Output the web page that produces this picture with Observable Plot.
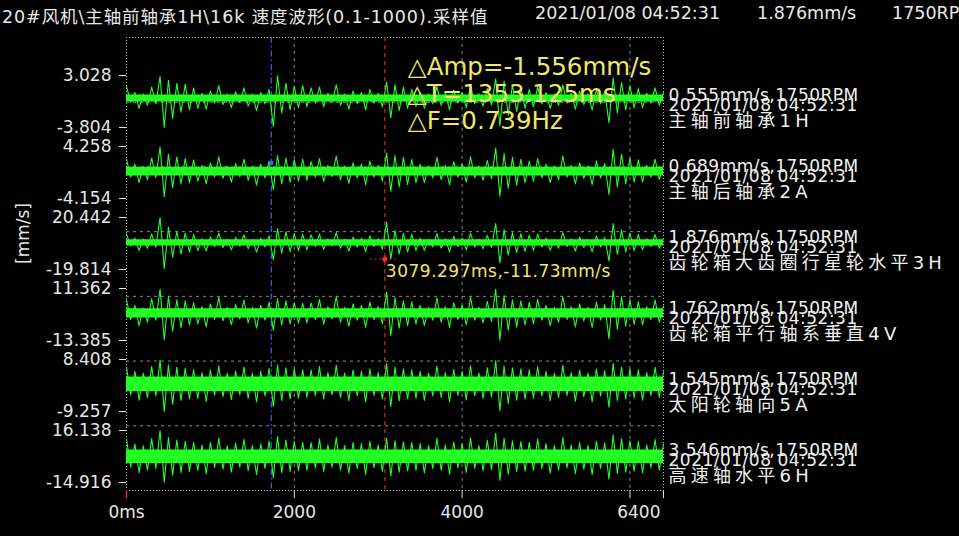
<!DOCTYPE html>
<html><head><meta charset="utf-8">
<script src="https://cdn.jsdelivr.net/npm/d3@7"></script>
<script src="https://cdn.jsdelivr.net/npm/@observablehq/plot@0.6"></script>
<style>
html,body{margin:0;padding:0;background:#000;}
#title{position:relative;width:959px;height:30px;overflow:hidden;white-space:nowrap;color:#e8e8e8;font-family:"DejaVu Sans","Noto Sans CJK SC",sans-serif;font-size:17.5px;}
#title span{position:absolute;top:3px;}
#chart{width:959px;height:506px;}
</style></head><body>
<div id="title"></div>
<div id="chart"></div>
<script>
// ---------- data ----------
const titleParts = ["20#风机\\主轴前轴承1H\\16k 速度波形(0.1-1000).采样值", "2021/01/08 04:52:31", "1.876mm/s", "1750RPM"];
const channelNames = ["主轴前轴承1H", "主轴后轴承2A", "齿轮箱大齿圈行星轮水平3H", "齿轮箱平行轴系垂直4V", "太阳轮轴向5A", "高速轴水平6H"];
const chMax = [3.028, 4.258, 20.442, 11.362, 8.408, 16.138];
const chMin = [-3.804, -4.154, -19.814, -13.385, -9.257, -14.916];
const chValue = ["0.555", "0.689", "1.876", "1.762", "1.545", "3.546"];
const rpm = "1750RPM";
const stamp = "2021/01/08 04:52:31";
const offsets = [0.0, 0.2, 0.8, -0.5, 0.0, 0.5];      // DC level of each trace (mm/s)
const coreHalf = [0.45, 0.7, 2.4, 2.2, 2.5, 4.0];     // half thickness of the dense band (mm/s)
const sampleStep = 50;                                  // ms between read samples
const xTicks = [0, 2000, 4000, 6000, 6400];
const xLabels = [0, 2000, 4000];
const cursorRed = 3079.297, deltaT = 1353.125;
const cursorBlue = cursorRed - deltaT;
const redValue = -11.73, blueValue = 1.6;
const deltaLines = ["△Amp=-1.556mm/s", "△T=1353.125ms", "△F=0.739Hz"];
const cursorLabel = "3079.297ms,-11.73mm/s";

const wave1 = [1.6,-0.5,0.8,-1.3,0.6,-0.9,1.5,-0.7,
 2.9,-3.8,2.4,-2.6,2.0,-1.8,1.9,-1.5,1.4,-1.3,
 0.7,-1.4,1.0,-0.6,1.7,-0.8,0.6,-1.2,0.9,-0.5,1.4,-1.0,0.6,-1.6,0.8,-0.7,1.2,
 -3.7,3.0,-1.9,2.0,-1.5,1.6,-1.2,1.7,-1.1,1.4,
 -0.6,1.5,-1.1,0.7,-0.5,1.8,-0.9,0.6,-1.4,1.0,-0.7,0.8,-1.5,1.2,-0.6,0.7,-1.1,
 2.2,-2.5,1.8,-1.6,1.5,-1.3,1.2,-1.0,
 0.8,-1.3,0.6,-0.7,1.6,-0.9,0.7,-1.5,1.1,-0.6,0.8,-1.2,1.7,-0.7,0.6,-1.0,1.3,-0.8,
 2.6,-3.6,2.3,-2.2,1.8,-1.7,1.5,-1.3,1.2,-1.1,
 1.5,-0.7,0.8,-1.3,0.6,-0.9,1.8,-0.6,0.7,-1.4,1.0,-0.8,0.6,-1.5,1.2,-0.7,0.9,
 -3.2,2.7,-1.9,2.1,-1.5,1.7,-1.2,1.3,
 -1.2,0.7,-0.6,1.4,-0.9,0.8];
const wave2 = [2.0,-0.9,1.2,-1.8,0.8,-1.3,2.2,-1.0,
 4.0,-4.1,2.8,-2.6,2.4,-2.0,2.1,-1.8,1.9,-1.6,
 1.0,-2.0,1.4,-0.9,2.4,-1.1,0.9,-1.7,1.3,-0.8,2.0,-1.4,0.9,-2.2,1.2,-1.0,1.7,
 -2.9,2.6,-2.0,2.2,-1.7,1.9,-1.5,2.0,-1.4,1.6,
 -0.9,2.1,-1.6,1.0,-0.8,2.5,-1.3,0.9,-1.9,1.4,-1.0,1.2,-2.1,1.7,-0.9,1.0,-1.5,
 3.0,-3.2,2.6,-2.5,2.3,-2.1,2.0,-1.8,
 1.2,-1.8,0.9,-1.0,2.3,-1.3,1.0,-2.1,1.6,-0.9,1.2,-1.7,2.4,-1.0,0.9,-1.4,1.8,-1.2,
 3.8,-4.0,2.9,-2.7,2.3,-2.2,2.0,-1.8,1.7,-1.6,
 2.1,-1.0,1.2,-1.8,0.9,-1.3,2.5,-0.9,1.0,-2.0,1.4,-1.1,0.9,-2.1,1.7,-1.0,1.3,
 -3.7,3.6,-2.5,2.8,-2.0,2.2,-1.7,1.9,
 -1.7,1.0,-0.9,2.0,-1.3,1.1];
const wave3 = [7.0,-2.5,3.8,-6.0,3.0,-4.2,6.8,-3.3,
 19.6,-20.0,12.0,-11.0,9.0,-8.5,7.5,-7.0,6.5,-6.0,
 3.3,-6.3,4.5,-2.8,7.5,-3.6,2.8,-5.4,4.1,-2.5,6.3,-4.5,2.8,-7.2,3.6,-3.2,5.4,
 -13.0,11.0,-8.0,8.5,-6.8,7.0,-6.0,6.5,-5.5,6.2,
 -2.8,6.8,-5.0,3.2,-2.5,8.0,-4.1,2.8,-6.3,4.5,-3.2,3.6,-6.8,5.4,-2.8,3.2,-5.0,
 16.0,-12.5,9.5,-8.5,7.5,-7.0,6.5,-6.0,
 3.6,-5.8,2.8,-3.2,7.2,-4.1,3.2,-6.8,5.0,-2.8,3.6,-5.4,7.6,-3.2,2.8,-4.5,5.8,-3.6,
 15.0,-15.5,10.5,-9.5,8.0,-7.5,7.0,-6.5,6.0,-5.8,
 6.8,-3.2,3.6,-5.8,2.8,-4.1,8.0,-2.8,3.2,-6.3,4.5,-3.6,2.8,-6.8,5.4,-3.2,4.1,
 -14.0,15.0,-9.0,10.0,-7.0,7.5,-6.0,6.5,
 -5.4,3.2,-2.8,6.3,-4.1,3.6];
const wave4 = [6.4,-2.9,3.8,-5.8,2.6,-4.2,7.0,-3.2,
 11.5,-12.5,8.0,-8.5,6.5,-6.8,6.0,-5.5,5.2,-5.0,
 3.2,-6.4,4.5,-2.9,7.7,-3.5,2.9,-5.4,4.2,-2.6,6.4,-4.5,2.9,-7.0,3.8,-3.2,5.4,
 -8.0,7.0,-5.5,6.0,-5.0,5.2,-4.6,4.8,-4.5,5.0,
 -2.9,6.7,-5.1,3.2,-2.6,8.0,-4.2,2.9,-6.1,4.5,-3.2,3.8,-6.7,5.4,-2.9,3.2,-4.8,
 10.0,-10.5,7.5,-7.0,6.0,-5.8,5.5,-5.0,
 3.8,-5.8,2.9,-3.2,7.4,-4.2,3.2,-6.7,5.1,-2.9,3.8,-5.4,7.7,-3.2,2.9,-4.5,5.8,-3.8,
 11.5,-12.8,8.5,-8.0,6.5,-6.5,6.0,-5.5,5.3,-5.0,
 6.7,-3.2,3.8,-5.8,2.9,-4.2,8.0,-2.9,3.2,-6.4,4.5,-3.5,2.9,-6.7,5.4,-3.2,4.2,
 -12.0,11.0,-7.5,8.0,-6.0,6.5,-5.2,5.5,
 -5.4,3.2,-2.9,6.4,-4.2,3.5];
const wave5 = [5.8,-3.6,4.4,-5.4,3.8,-4.6,6.0,-4.0,
 8.2,-9.2,6.5,-6.8,5.8,-5.5,5.4,-5.0,5.0,-4.8,
 4.0,-5.8,4.8,-3.7,6.2,-4.2,3.7,-5.2,4.5,-3.6,5.8,-4.8,3.8,-6.0,4.4,-4.0,5.3,
 -7.5,6.5,-5.5,5.6,-5.0,5.2,-4.7,4.9,-4.5,4.8,
 -3.8,6.0,-5.0,4.0,-3.6,6.4,-4.5,3.8,-5.6,4.8,-4.0,4.4,-6.0,5.2,-3.8,4.0,-5.0,
 7.0,-7.5,5.8,-5.6,5.2,-5.0,4.9,-4.7,
 4.4,-5.5,3.8,-4.0,6.2,-4.5,4.0,-5.9,5.0,-3.8,4.4,-5.3,6.3,-4.0,3.8,-4.8,5.6,-4.3,
 8.0,-9.0,6.2,-6.5,5.6,-5.4,5.2,-5.0,4.9,-4.7,
 6.0,-4.0,4.4,-5.6,3.8,-4.5,6.4,-3.8,4.0,-5.8,4.8,-4.2,3.8,-6.0,5.2,-4.0,4.6,
 -7.8,7.0,-5.5,5.8,-5.0,5.2,-4.6,4.9,
 -5.4,4.0,-3.8,5.8,-4.5,4.2];
const wave6 = [10.5,-6.2,7.6,-9.6,6.5,-8.0,10.8,-7.0,
 15.6,-15.2,11.5,-11.0,10.0,-9.5,9.2,-8.8,8.6,-8.2,
 7.0,-10.2,8.4,-6.4,11.0,-7.4,6.5,-9.2,8.0,-6.2,10.3,-8.4,6.6,-10.8,7.6,-7.0,9.4,
 -12.5,12.0,-9.5,10.0,-8.8,9.0,-8.3,8.6,-8.0,8.4,
 -6.6,10.6,-8.8,7.0,-6.3,11.4,-8.0,6.6,-9.8,8.4,-7.0,7.8,-10.6,9.2,-6.6,7.0,-8.8,
 11.0,-11.5,9.5,-9.2,8.8,-8.5,8.4,-8.0,
 7.8,-9.7,6.6,-7.0,11.0,-8.0,7.0,-10.4,8.8,-6.6,7.8,-9.4,11.2,-7.0,6.6,-8.4,9.9,-7.6,
 14.0,-14.0,11.0,-10.5,9.5,-9.0,9.0,-8.6,8.5,-8.2,
 10.6,-7.0,7.8,-9.9,6.6,-8.0,11.4,-6.6,7.0,-10.2,8.4,-7.4,6.6,-10.6,9.2,-7.0,8.2,
 -13.5,13.0,-10.0,10.5,-9.2,9.5,-8.7,9.0,
 -9.6,7.0,-6.6,10.2,-8.0,7.4];
const waves = [wave1, wave2, wave3, wave4, wave5, wave6];

// ---------- layout (stacked channel strips on one pixel-like y scale) ----------
const FRAME_H = 453, STRIP_TOP = 38, STRIP_PITCH = 71, STRIP_SPAN = 52;
const pos = (k, v) => STRIP_TOP + k * STRIP_PITCH + (chMax[k] - v) / (chMax[k] - chMin[k]) * STRIP_SPAN;

// title
const titleLeft = [2, 535, 757, 892];
const tdiv = document.getElementById("title");
titleParts.forEach((s, i) => { const sp = document.createElement("span"); sp.textContent = s; sp.style.left = titleLeft[i] + "px"; if (i === 0) sp.style.letterSpacing = "0.9px"; tdiv.appendChild(sp); });

const traceData = waves.flatMap((w, k) => w.map((v, i) => ({ch: k, t: i * sampleStep, p: pos(k, offsets[k] + v)})));
const coreData = channelNames.flatMap((n, k) => [0, 6400].map(t => ({ch: k, t, lo: pos(k, offsets[k] - coreHalf[k]), hi: pos(k, offsets[k] + coreHalf[k])})));
const yTicks = chMax.flatMap((mx, k) => [{p: pos(k, mx), label: mx.toFixed(3)}, {p: pos(k, chMin[k]), label: chMin[k].toFixed(3)}]);
const yLabelOf = new Map(yTicks.map(d => [d.p, d.label]));
const gridRows = d3.range(1, 7).map(i => i * FRAME_H / 7);
const chIdx = channelNames.map((n, k) => k);
const mid = k => STRIP_TOP + k * STRIP_PITCH + STRIP_SPAN / 2;

const green = "#22ff22", yellow = "#f2e66a", gridColor = "#8a8a8a", textColor = "#e6e6e6";

const chart = Plot.plot({
  width: 959, height: 506,
  marginLeft: 126, marginRight: 296, marginTop: 7, marginBottom: 46,
  style: {background: "#000", color: textColor, fontFamily: "'DejaVu Sans','Noto Sans CJK SC',sans-serif", fontSize: "17px", overflow: "visible"},
  x: {domain: [0, 6400], axis: null},
  y: {domain: [0, FRAME_H], reverse: true, axis: null},
  marks: [
    Plot.ruleY(gridRows, {y: d => d, stroke: gridColor, strokeDasharray: "3,4"}),
    Plot.ruleX([2000, 4000, 6000], {x: d => d, stroke: gridColor, strokeDasharray: "3,4"}),
    Plot.ruleY([0, FRAME_H], {y: d => d, stroke: "#bdbdbd", strokeDasharray: "1,2"}),
    Plot.ruleX([0, 6400], {x: d => d, stroke: "#bdbdbd", strokeDasharray: "1,2"}),
    Plot.ruleX([cursorBlue], {x: d => d, stroke: "#3a5cff", strokeDasharray: "6,3,1.5,3", strokeWidth: 1.2}),
    Plot.ruleX([cursorRed], {x: d => d, stroke: "#e02828", strokeDasharray: "4,4", strokeWidth: 1.2}),
    Plot.areaY(coreData, {x: "t", y1: "lo", y2: "hi", z: "ch", fill: green, curve: "linear"}),
    Plot.line(traceData, {x: "t", y: "p", z: "ch", stroke: green, strokeWidth: 1.1}),
    Plot.dot([blueValue], {x: () => cursorBlue, y: v => pos(1, v), r: 2.2, fill: "#3a5cff"}),
    Plot.ruleY([redValue], {y: v => pos(2, v), x1: () => cursorRed - 180, x2: () => cursorRed + 180, stroke: "#e02828", strokeDasharray: "2,3"}),
    Plot.dot([redValue], {x: () => cursorRed, y: v => pos(2, v), r: 2.6, fill: "#ff2a2a"}),
    Plot.text([cursorLabel], {x: () => cursorRed, y: () => pos(2, redValue), text: d => d, dx: 1, dy: 12, textAnchor: "start", fill: yellow, fontSize: 17}),
    ...deltaLines.map((s, i) => Plot.text([s], {x: () => cursorRed, text: d => d, frameAnchor: "top", dx: 23, dy: 20 + 27 * i, textAnchor: "start", fill: yellow, fontSize: 24.5})),
    Plot.axisY(yTicks.map(d => d.p), {tickFormat: p => yLabelOf.get(p), tickSize: 7, tickPadding: 8, fontSize: 17, label: null}),
    Plot.text(["[mm/s]"], {text: d => d, frameAnchor: "left", dx: -103, rotate: -90, fontSize: 17, fill: textColor}),
    Plot.ruleX(xTicks.slice(1), {x: d => d, y1: FRAME_H, y2: FRAME_H + 8, stroke: "#dddddd"}),
    Plot.ruleX([0], {x: d => d, y1: FRAME_H, y2: FRAME_H + 8, stroke: "#e02828", strokeWidth: 1.5}),
    Plot.axisX(xLabels, {tickSize: 0, tickPadding: 15, tickFormat: d => d === 0 ? "0ms" : String(d), fontSize: 17, label: null}),
    Plot.text([6400], {x: d => d, text: d => String(d), frameAnchor: "bottom", lineAnchor: "top", dy: 15, dx: -3, textAnchor: "end", fontSize: 17, fill: textColor}),
    Plot.text(chIdx, {x: () => 6400, y: k => mid(k), text: k => chValue[k] + "mm/s," + rpm, dx: 5, dy: -6, textAnchor: "start", fontSize: 17, fill: "#f0f0f0"}),
    Plot.text(chIdx, {x: () => 6400, y: k => mid(k), text: k => stamp, dx: 5, dy: 4, textAnchor: "start", fontSize: 17, fill: "#f0f0f0"}),
    Plot.text(chIdx, {x: () => 6400, y: k => mid(k), text: k => channelNames[k], dx: 5, dy: 20, textAnchor: "start", fontSize: 18, fill: "#f0f0f0"})
  ]
});
document.getElementById("chart").appendChild(chart);
// letter spacing tweaks for the strip labels
d3.select(chart).selectAll("text").each(function () {
  const t = this.textContent;
  if (channelNames.includes(t)) this.setAttribute("letter-spacing", "4.2");
  else if (t.endsWith(rpm) || t === stamp || t === cursorLabel) this.setAttribute("letter-spacing", "0.5");
});
</script></body></html>
